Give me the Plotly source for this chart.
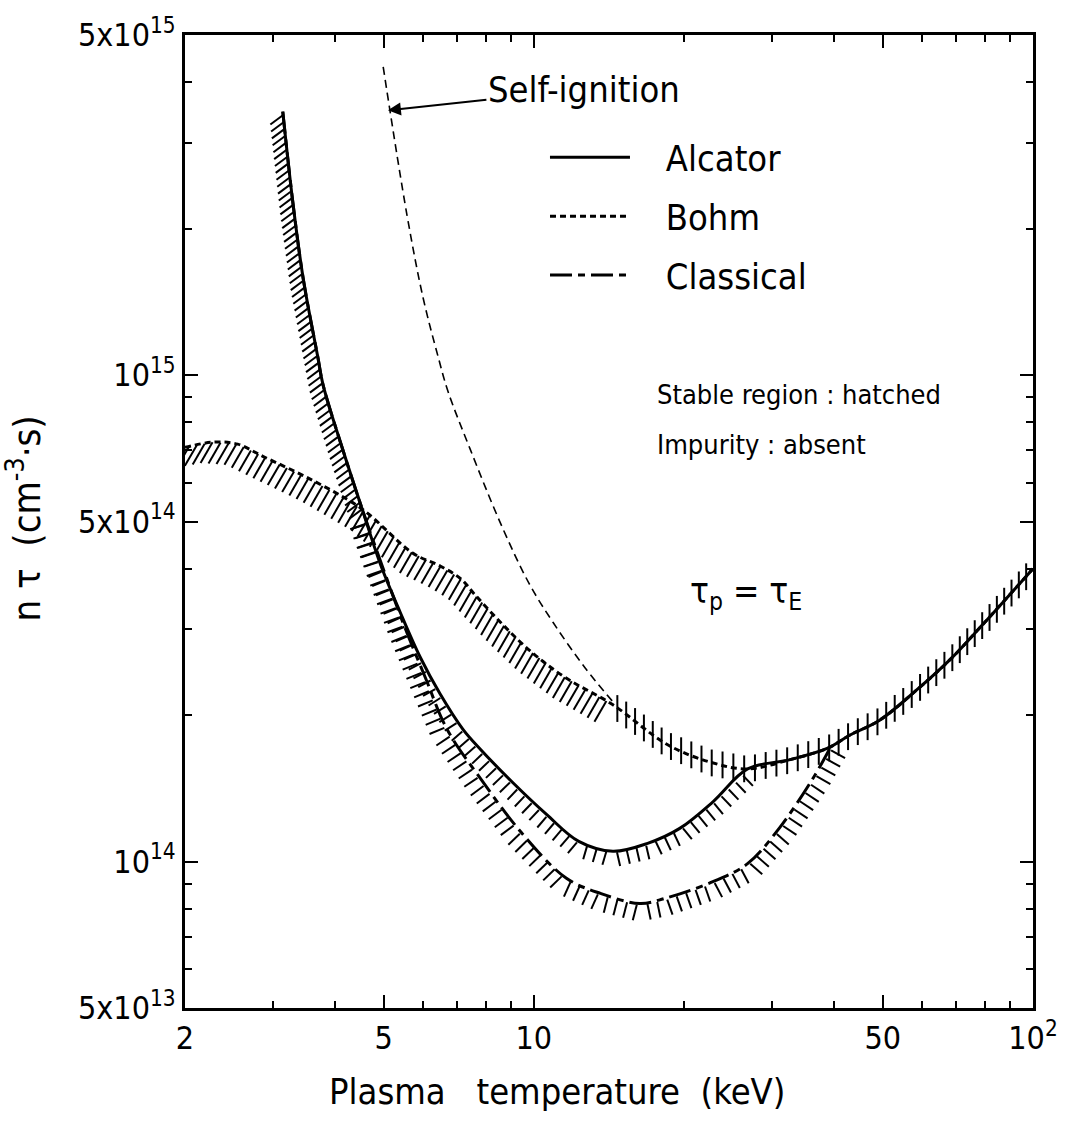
import numpy as np
import plotly.graph_objects as go

# ---------------- data ----------------
alcator_T = [3.14, 3.29, 3.45, 3.69, 3.78, 4.15, 4.53, 4.92, 5.40, 5.92, 6.49, 7.21, 7.82, 9.09,
             10.6, 12.3, 14.4, 16.9, 19.6, 22.9, 26.8, 32.6, 38.8, 43.0, 49.2, 58.4, 68.2, 79.3, 100]
alcator_nt = [3.48e15, 2.26e15, 1.58e15, 1.09e15, 9.56e14, 6.98e14, 5.3e14, 4.1e14, 3.25e14, 2.63e14,
              2.21e14, 1.87e14, 1.70e14, 1.45e14, 1.25e14, 1.10e14, 1.05e14, 1.09e14, 1.17e14, 1.33e14,
              1.55e14, 1.62e14, 1.71e14, 1.82e14, 1.95e14, 2.25e14, 2.6e14, 3.07e14, 4.0e14]

bohm_T = [2.0, 2.28, 2.55, 2.87, 3.61, 4.53, 5.73, 6.49, 7.12, 7.63, 8.58, 9.83, 11.55, 14.4,
          18.5, 22.6, 26.8, 32.6, 38.8, 43.0, 49.2, 58.4, 68.2, 79.3, 100]
bohm_nt = [7.1e14, 7.28e14, 7.21e14, 6.8e14, 6.07e14, 5.3e14, 4.3e14, 4.05e14, 3.82e14, 3.53e14,
           3.1e14, 2.71e14, 2.39e14, 2.1e14, 1.74e14, 1.6e14, 1.55e14, 1.62e14, 1.71e14, 1.82e14,
           1.95e14, 2.25e14, 2.6e14, 3.07e14, 4.0e14]

classical_T = [3.14, 3.29, 3.45, 3.69, 3.78, 4.15, 4.53, 5.03, 5.52, 6.06, 6.70, 7.82, 9.42, 11.6,
               13.6, 16.3, 18.3, 22.9, 26.8, 31.0, 36.2, 39.2]
classical_nt = [3.48e15, 2.26e15, 1.58e15, 1.09e15, 9.56e14, 6.98e14, 5.3e14, 3.91e14, 3.02e14,
                2.39e14, 1.87e14, 1.48e14, 1.15e14, 9.25e13, 8.6e13, 8.2e13, 8.4e13, 9.1e13,
                9.9e13, 1.17e14, 1.48e14, 1.71e14]

ignition_T = [4.99, 5.57, 6.0, 6.43, 6.73, 7.45, 8.58, 9.78, 10.93, 12.67, 14.4]
ignition_nt = [4.3e15, 2.13e15, 1.44e15, 1.09e15, 9.25e14, 7.05e14, 4.95e14, 3.73e14, 3.1e14,
               2.5e14, 2.13e14]

x_tickvals = [2, 5, 10, 50, 100]
x_ticktext = ["2", "5", "10", "50", "10<sup>2</sup>"]
x_minor = [3, 4, 6, 7, 8, 9, 20, 30, 40, 60, 70, 80, 90]
y_tickvals = [5e13, 1e14, 5e14, 1e15, 5e15]
y_ticktext = ["5x10<sup>13</sup>", "10<sup>14</sup>", "5x10<sup>14</sup>", "10<sup>15</sup>",
              "5x10<sup>15</sup>"]
y_minor = [6e13, 7e13, 8e13, 9e13, 2e14, 3e14, 4e14, 6e14, 7e14, 8e14, 9e14, 2e15, 3e15, 4e15]

# ---------------- layout geometry ----------------
FIG_W, FIG_H = 1077, 1122
ML, MR, MT, MB = 185, 44, 28, 114
PW, PH = FIG_W - ML - MR, FIG_H - MT - MB
XMIN, XMAX = 2, 100
YMIN, YMAX = 5e13, 5e15
XPPD = PW / (np.log10(XMAX) - np.log10(XMIN))
YPPD = PH / (np.log10(YMAX) - np.log10(YMIN))

FONT = "DejaVu Sans Condensed, DejaVu Sans, sans-serif"
NB = "\u00a0"


def to_px(T, Y):
    return np.log10(np.asarray(T, float)) * XPPD, -np.log10(np.asarray(Y, float)) * YPPD


def from_px(u, v):
    return 10 ** (u / XPPD), 10 ** (-v / YPPD)


def hatch(T, Y, t0, t1, spacing, mode, a, b, direction=(0, 1)):
    """Short hatch strokes along a curve (stable side), built from the curve data."""
    u, v = to_px(T, Y)
    seg = np.hypot(np.diff(u), np.diff(v))
    s = np.concatenate([[0], np.cumsum(seg)])
    lt = np.log10(np.asarray(T, float))
    s0 = np.interp(np.log10(t0), lt, s)
    s1 = np.interp(np.log10(t1), lt, s)
    d = np.array(direction, float)
    d = d / np.hypot(*d)
    xs, ys = [], []
    for sp in np.arange(s0 + spacing / 2, s1, spacing):
        pu = np.interp(sp, s, u)
        pv = np.interp(sp, s, v)
        i = int(min(max(np.searchsorted(s, sp, side="right") - 1, 0), len(seg) - 1))
        tu, tv = (u[i + 1] - u[i]) / seg[i], (v[i + 1] - v[i]) / seg[i]
        if mode == "normal":
            du, dv = -tv, tu
        else:
            du, dv = d
        x0, y0 = from_px(pu + a * du, pv + a * dv)
        x1, y1 = from_px(pu + b * du, pv + b * dv)
        xs += [x0, x1, None]
        ys += [y0, y1, None]
    return xs, ys


fig = go.Figure()

# hatching (stable side)
hatch_sets = [
    hatch(alcator_T, alcator_nt, 3.14, 4.53, 7, "fixed", 0, 16, (-0.8, 0.6)),
    hatch(alcator_T, alcator_nt, 4.6, 26.8, 10, "normal", 2, 16),
    hatch(classical_T, classical_nt, 4.6, 39.2, 10, "normal", 2, 18),
    hatch(bohm_T, bohm_nt, 2.0, 14.4, 8, "fixed", 0, 24, (-0.5, 0.87)),
    hatch(bohm_T, bohm_nt, 14.4, 100, 11, "fixed", -13, 14, (0, 1)),
]
for hx, hy in hatch_sets:
    fig.add_trace(go.Scatter(x=hx, y=hy, mode="lines", line=dict(color="black", width=2),
                             showlegend=False, hoverinfo="skip"))

# self-ignition
fig.add_trace(go.Scatter(x=ignition_T, y=ignition_nt, mode="lines",
                         line=dict(color="black", width=1.6, dash="8px,5px", shape="spline"),
                         showlegend=False))

fig.add_trace(go.Scatter(x=classical_T, y=classical_nt, mode="lines", name=NB * 3 + "Classical",
                         legendgroup="c", legendrank=3,
                         line=dict(color="black", width=3, dash="22px,6px,7px,6px", shape="spline")))
fig.add_trace(go.Scatter(x=bohm_T, y=bohm_nt, mode="lines", name=NB * 3 + "Bohm",
                         legendgroup="b", legendrank=2,
                         line=dict(color="black", width=3, dash="6px,4px", shape="spline")))
fig.add_trace(go.Scatter(x=alcator_T, y=alcator_nt, mode="lines", name=NB * 3 + "Alcator",
                         legendgroup="a", legendrank=1,
                         line=dict(color="black", width=3, shape="spline")))

axis_common = dict(type="log", showgrid=False, zeroline=False, showline=True, linecolor="black",
                   linewidth=3, mirror="ticks", ticks="inside", tickcolor="black", tickwidth=2,
                   ticklen=13, tickfont=dict(family=FONT, size=32, color="black"))

fig.update_xaxes(range=[np.log10(XMIN), np.log10(XMAX)], tickmode="array",
                 tickvals=x_tickvals, ticktext=x_ticktext,
                 minor=dict(tickmode="array", tickvals=x_minor, ticks="inside", ticklen=7,
                            tickwidth=2, tickcolor="black", showgrid=False),
                 **axis_common)
fig.update_yaxes(range=[np.log10(YMIN), np.log10(YMAX)], tickmode="array",
                 tickvals=y_tickvals, ticktext=y_ticktext,
                 minor=dict(tickmode="array", tickvals=y_minor, ticks="inside", ticklen=7,
                            tickwidth=2, tickcolor="black", showgrid=False),
                 **axis_common)

big = dict(family=FONT, size=36, color="black")
small = dict(family=FONT, size=27, color="black")
fig.add_annotation(x=np.log10(5.1), y=np.log10(3.5e15), xref="x", yref="y",
                   text="Self-ignition", showarrow=True, ax=196, ay=-21,
                   arrowhead=2, arrowsize=1.3, arrowwidth=2, arrowcolor="black",
                   font=big, xanchor="center")
fig.add_annotation(x=0.554, y=0.6306, xref="paper", yref="paper", text="Stable region : hatched",
                   showarrow=False, xanchor="left", yanchor="middle", font=small)
fig.add_annotation(x=0.554, y=0.5796, xref="paper", yref="paper", text="Impurity : absent",
                   showarrow=False, xanchor="left", yanchor="middle", font=small)
fig.add_annotation(x=0.593, y=0.4265, xref="paper", yref="paper",
                   text="τ<sub>p</sub> = τ<sub>E</sub>",
                   showarrow=False, xanchor="left", yanchor="middle",
                   font=dict(family=FONT, size=35, color="black"))
fig.add_annotation(x=0.4387, y=-0.0857, xref="paper", yref="paper",
                   text="Plasma   temperature  (keV)", showarrow=False,
                   xanchor="center", yanchor="middle", font=big)
fig.add_annotation(x=-0.19, y=0.503, xref="paper", yref="paper",
                   text="n τ  (cm<sup>-3</sup>·s)", showarrow=False, textangle=-90,
                   xanchor="center", yanchor="middle", font=dict(family=FONT, size=38, color="black"))

fig.update_layout(
    width=FIG_W, height=FIG_H,
    margin=dict(l=ML, r=MR, t=MT, b=MB),
    paper_bgcolor="white", plot_bgcolor="white",
    showlegend=True,
    legend=dict(x=0.4245, y=0.905, xanchor="left", yanchor="top", traceorder="grouped",
                tracegroupgap=9, itemwidth=80, font=big, bgcolor="rgba(0,0,0,0)"),
)

fig.write_html("out.html")
